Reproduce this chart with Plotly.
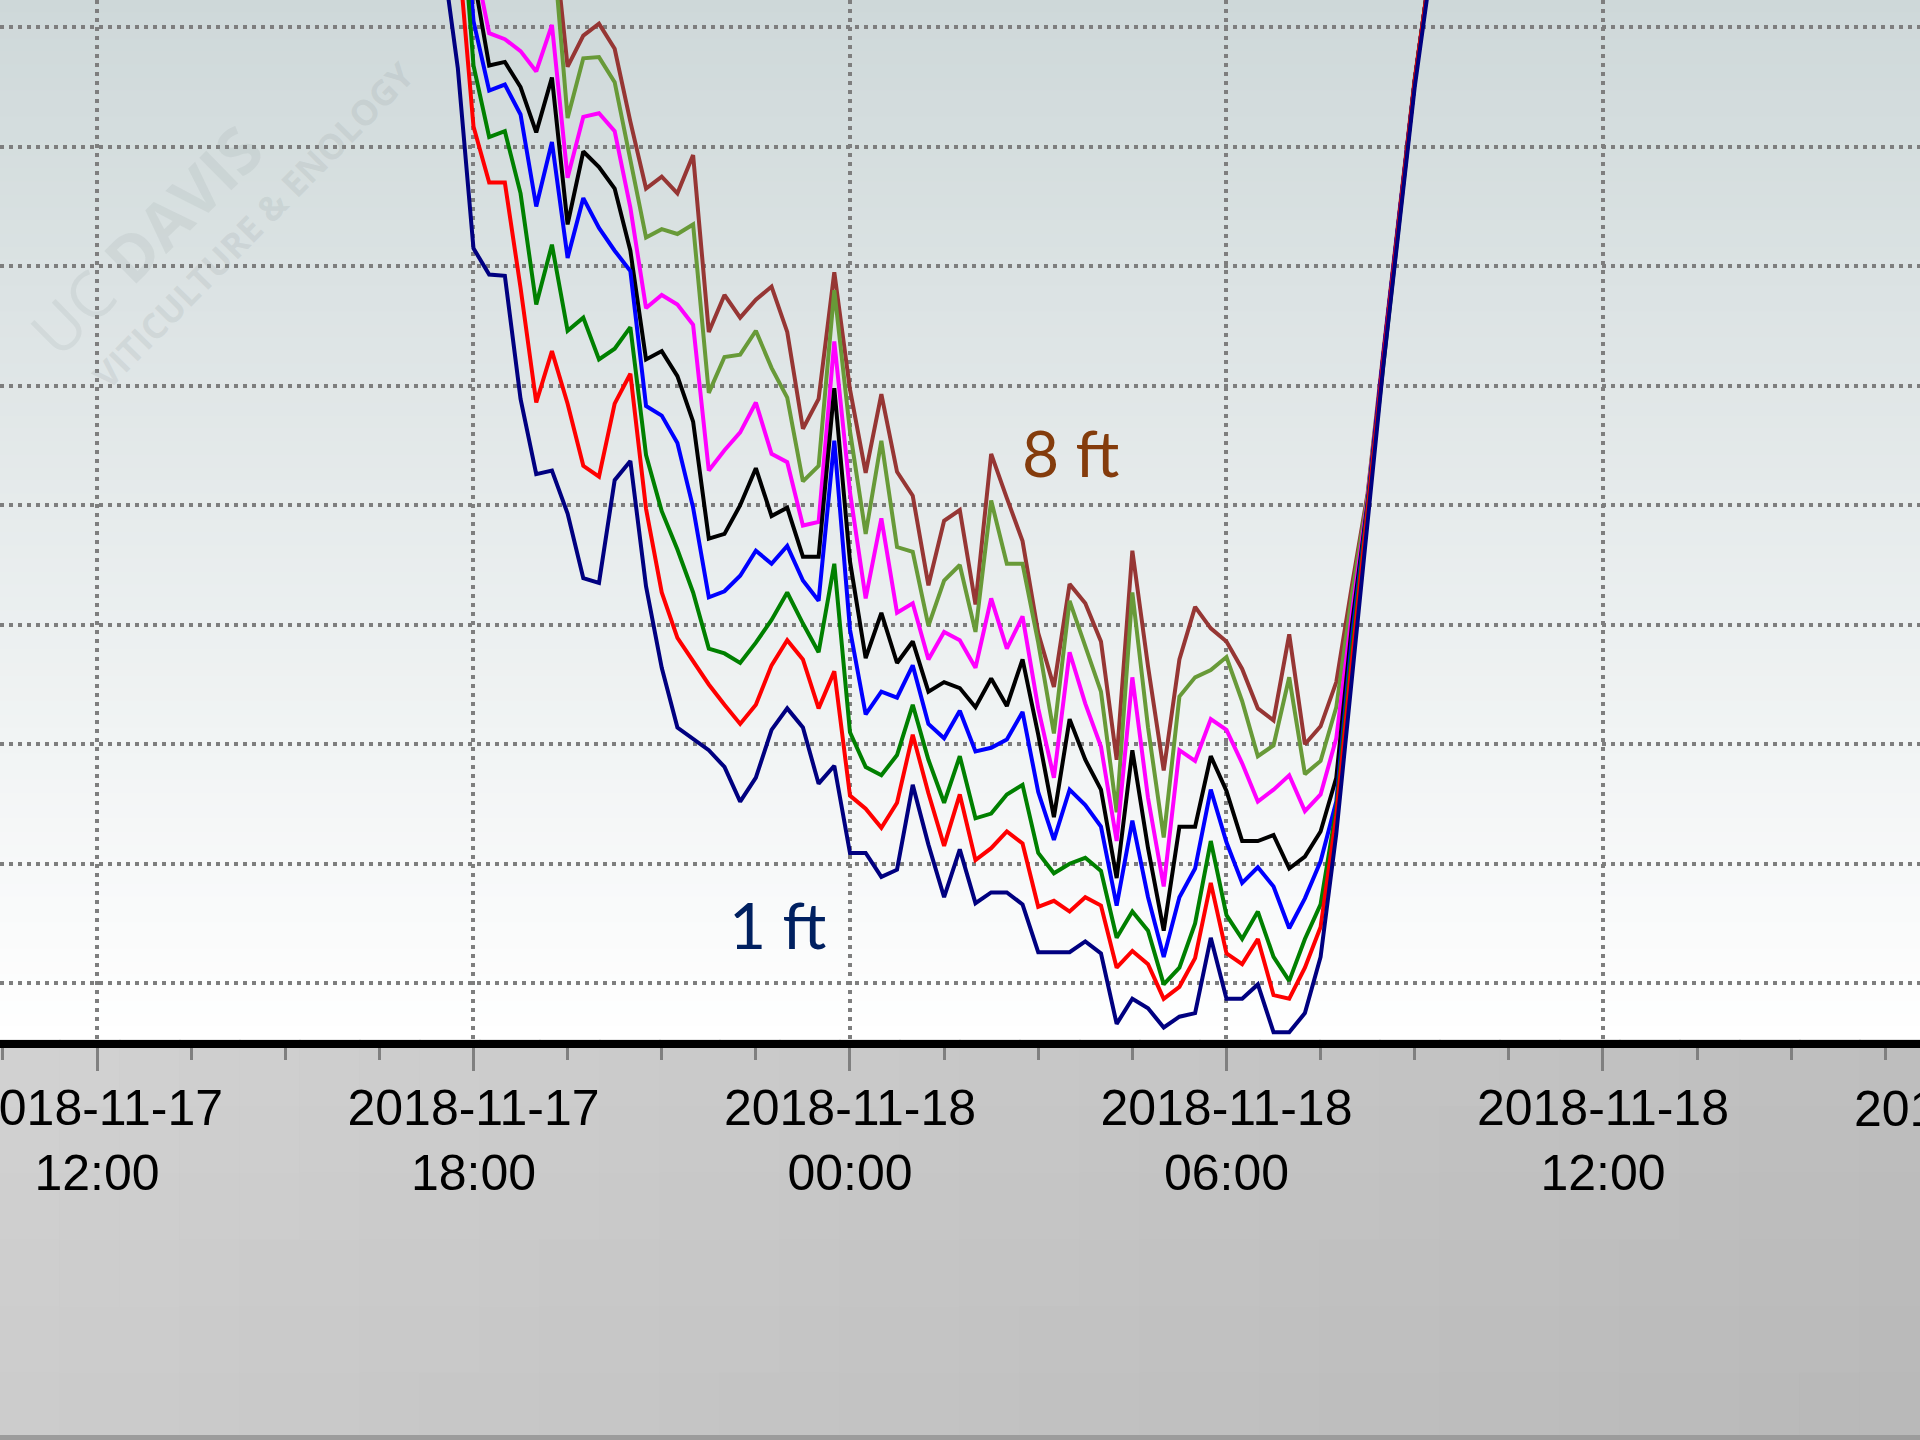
import plotly.graph_objects as go
import pandas as pd

# ---- data: 15-minute readings, 2018-11-17 17:15 .. 2018-11-18 09:30 ----
START = "2018-11-17 17:15"
N_POINTS = 66
times = pd.date_range(START, periods=N_POINTS, freq="15min")

temp_1ft = [38.5, 37.63, 36.66, 35.15, 34.93, 34.92, 33.89, 33.26, 33.29, 32.93,
            32.39, 32.35, 33.21, 33.37, 32.32, 31.64, 31.14, 31.05, 30.95, 30.81,
            30.52, 30.72, 31.12, 31.30, 31.14, 30.67, 30.82, 30.09, 30.09, 29.89,
            29.95, 30.66, 30.16, 29.72, 30.12, 29.67, 29.76, 29.76, 29.66, 29.26,
            29.26, 29.26, 29.35, 29.25, 28.66, 28.87, 28.79, 28.63, 28.72, 28.75,
            29.38, 28.87, 28.87, 28.99, 28.59, 28.59, 28.75, 29.22, 30.25, 31.58,
            32.85, 34.17, 35.33, 36.50, 37.45, 38.5]
temp_2ft = [39.0, 38.3, 37.7, 36.17, 35.70, 35.70, 34.82, 33.86, 34.29, 33.85,
            33.33, 33.24, 33.85, 34.10, 32.97, 32.27, 31.89, 31.70, 31.50, 31.33,
            31.17, 31.33, 31.66, 31.87, 31.71, 31.30, 31.61, 30.57, 30.46, 30.30,
            30.51, 31.08, 30.59, 30.15, 30.58, 30.03, 30.13, 30.27, 30.17, 29.64,
            29.69, 29.60, 29.72, 29.65, 29.13, 29.27, 29.16, 28.87, 28.97, 29.21,
            29.84, 29.25, 29.16, 29.37, 28.90, 28.87, 29.13, 29.47, 30.40, 31.70,
            32.95, 34.22, 35.38, 36.55, 37.5, 38.6]
temp_3ft = [40.0, 39.2, 38.4, 36.68, 36.08, 36.13, 35.61, 34.68, 35.18, 34.46,
            34.57, 34.22, 34.31, 34.49, 33.42, 32.95, 32.63, 32.27, 31.80, 31.76,
            31.68, 31.85, 32.04, 32.27, 32.01, 31.77, 32.51, 31.10, 30.81, 30.74,
            30.91, 31.33, 30.87, 30.51, 30.90, 30.38, 30.42, 30.58, 30.66, 30.09,
            29.92, 30.00, 30.05, 29.94, 29.38, 29.60, 29.44, 28.99, 29.13, 29.50,
            30.19, 29.57, 29.37, 29.60, 29.22, 29.02, 29.37, 29.66, 30.46, 31.80,
            33.0, 34.22, 35.38, 36.55, 37.5, 38.6]
temp_4ft = [40.5, 39.6, 38.7, 37.05, 36.47, 36.52, 36.27, 35.50, 36.04, 35.07,
            35.57, 35.32, 35.13, 34.96, 33.83, 33.75, 33.52, 32.98, 32.23, 32.28,
            32.41, 32.62, 32.51, 32.66, 32.37, 32.20, 33.54, 31.96, 31.25, 31.44,
            31.39, 31.66, 31.17, 31.05, 31.28, 30.94, 30.97, 31.04, 31.27, 30.60,
            30.20, 30.62, 30.49, 30.31, 29.65, 30.36, 29.72, 29.22, 29.72, 29.96,
            30.62, 30.18, 29.84, 29.97, 29.81, 29.46, 29.71, 30.02, 30.52, 31.90,
            33.0, 34.25, 35.4, 36.55, 37.5, 38.6]
temp_5ft = [40.5, 39.4, 38.4, 37.43, 36.68, 36.71, 36.50, 36.12, 36.58, 35.35,
            35.96, 35.83, 35.65, 35.13, 34.22, 34.29, 34.08, 33.70, 32.72, 32.76,
            33.00, 33.31, 32.91, 32.98, 32.57, 32.57, 33.98, 32.53, 31.72, 32.10,
            31.68, 31.86, 31.44, 31.52, 31.47, 31.31, 31.55, 31.32, 31.71, 31.08,
            30.39, 31.21, 30.87, 30.62, 29.88, 30.95, 30.13, 29.44, 30.31, 30.31,
            30.90, 30.61, 30.19, 30.19, 30.24, 29.96, 30.06, 30.27, 30.72, 32.0,
            33.02, 34.25, 35.4, 36.55, 37.5, 38.6]
temp_6ft = [41.0, 39.8, 38.7, 37.6, 36.95, 36.90, 36.80, 36.63, 37.02, 35.74,
            36.25, 36.28, 36.13, 35.49, 34.65, 34.76, 34.68, 34.51, 33.29, 33.46,
            33.61, 33.86, 33.43, 33.36, 32.83, 32.86, 34.37, 33.11, 32.22, 32.89,
            32.10, 32.18, 31.71, 31.94, 31.87, 31.64, 32.22, 31.80, 32.07, 31.30,
            30.72, 31.77, 31.34, 30.98, 30.19, 31.56, 30.55, 29.81, 30.95, 30.86,
            31.21, 31.12, 30.84, 30.52, 30.62, 30.74, 30.44, 30.58, 31.05, 32.1,
            33.05, 34.25, 35.4, 36.55, 37.5, 38.6]
temp_7ft = [41.5, 40.6, 39.7, 39.0, 38.6, 38.5, 38.3, 38.1, 37.8, 36.24,
            36.74, 36.75, 36.54, 35.90, 35.24, 35.31, 35.27, 35.35, 33.94, 34.24,
            34.26, 34.46, 34.15, 33.90, 33.20, 33.33, 34.80, 33.62, 32.76, 33.54,
            32.65, 32.61, 31.99, 32.37, 32.50, 31.94, 33.04, 32.51, 32.51, 31.85,
            31.09, 32.20, 31.82, 31.44, 30.43, 32.27, 31.14, 30.22, 31.40, 31.56,
            31.62, 31.73, 31.36, 30.90, 30.99, 31.56, 30.75, 30.86, 31.31, 32.25,
            33.08, 34.25, 35.4, 36.55, 37.5, 38.6]
temp_8ft = [42.0, 41.0, 40.2, 39.5, 39.0, 38.8, 38.6, 38.3, 37.92, 36.67,
            36.93, 37.03, 36.82, 36.21, 35.65, 35.75, 35.61, 35.93, 34.45, 34.76,
            34.57, 34.72, 34.83, 34.45, 33.64, 33.89, 34.95, 33.97, 33.27, 33.93,
            33.28, 33.08, 32.33, 32.87, 32.96, 32.17, 33.43, 33.06, 32.70, 31.93,
            31.48, 32.34, 32.18, 31.86, 30.87, 32.62, 31.65, 30.78, 31.71, 32.15,
            31.97, 31.86, 31.63, 31.30, 31.20, 31.92, 31.00, 31.15, 31.52, 32.33,
            33.1, 34.28, 35.42, 36.57, 37.5, 38.6]

series_names = ["8 ft", "7 ft", "6 ft", "5 ft", "4 ft", "3 ft", "2 ft", "1 ft"]
series_values = [temp_8ft, temp_7ft, temp_6ft, temp_5ft, temp_4ft, temp_3ft, temp_2ft, temp_1ft]
series_colors = ["#963634", "#689A38", "#FF00FF", "#000000", "#0000FF", "#008000", "#FF0000", "#000080"]

# ---- figure geometry ----
W, H = 1920, 1440
PLOT_BOTTOM = 1040  # px from top
X_RANGE = ["2018-11-17 10:27:15", "2018-11-18 17:03:09"]
Y_RANGE = [28.525, 37.228]

fig = go.Figure()
for name, vals, col in zip(series_names, series_values, series_colors):
    fig.add_trace(go.Scatter(x=times, y=vals, mode="lines", name=name,
                             line=dict(color=col, width=4), showlegend=False,
                             hoverinfo="skip"))

shapes = []
# plot-area vertical gradient (grey-blue at top to white at bottom)
NB = 80
top_c = (206, 216, 217)
bot_c = (255, 255, 255)
for i in range(NB):
    t = (i + 0.5) / NB
    c = tuple(int(round(top_c[j] + (bot_c[j] - top_c[j]) * t)) for j in range(3))
    y1 = 1 - i / NB
    y0 = 1 - (i + 1) / NB
    shapes.append(dict(type="rect", xref="paper", yref="paper", x0=0, x1=1,
                       y0=y0 - 0.0005, y1=y1 + 0.0005, layer="below",
                       line=dict(width=0), fillcolor="rgb(%d,%d,%d)" % c))
# lower grey region with diagonal gradient
y_bottom_paper = 1 - H / PLOT_BOTTOM
NX, NY = 32, 6
for i in range(NX):
    for j in range(NY):
        tx = (i + 0.5) / NX
        ty = (j + 0.5) / NY
        s = 0.75 * tx + 0.25 * ty
        g = int(round(210 - 26 * s))
        x0 = i / NX
        x1 = (i + 1) / NX
        ya = y_bottom_paper * j / NY
        yb = y_bottom_paper * (j + 1) / NY
        shapes.append(dict(type="rect", xref="paper", yref="paper",
                           x0=x0 - 0.0005, x1=x1 + 0.0005, y0=yb - 0.0005, y1=ya + 0.0005,
                           layer="below", line=dict(width=0),
                           fillcolor="rgb(%d,%d,%d)" % (g, g, g)))
# dark strip at the very bottom
shapes.append(dict(type="rect", xref="paper", yref="paper", x0=0, x1=1,
                   y0=y_bottom_paper - 0.01, y1=1 - 1435 / PLOT_BOTTOM,
                   layer="below", line=dict(width=0), fillcolor="#9C9C9C"))

grid_kw = dict(showgrid=True, gridcolor="#7E7E7E", gridwidth=4, griddash="4px,5px")

fig.update_layout(
    width=W, height=H,
    margin=dict(l=0, r=0, t=0, b=H - PLOT_BOTTOM, pad=0),
    paper_bgcolor="#C8C8C8",
    plot_bgcolor="#E6ECEC",
    shapes=shapes,
    showlegend=False,
    xaxis=dict(
        type="date", range=X_RANGE, tick0="2018-11-17 00:00", dtick=21600000,
        tickformat="%Y-%m-%d<br>%H:%M",
        tickfont=dict(family="Liberation Sans, Arial", size=50, color="#000000"),
        ticklabeloverflow="allow", ticklabelstandoff=-6,
        ticks="outside", ticklen=23, tickwidth=3, tickcolor="#808080",
        showline=True, linecolor="#000000", linewidth=8,
        minor=dict(dtick=5400000, ticks="outside", ticklen=12, tickwidth=3,
                   tickcolor="#808080", showgrid=False),
        zeroline=False, automargin=False, fixedrange=True,
        **grid_kw),
    yaxis=dict(
        range=Y_RANGE, tick0=29, dtick=1, showticklabels=False, ticks="",
        zeroline=False, showline=False, automargin=False, fixedrange=True,
        **grid_kw),
)

def px_x(x):
    return x / W

def px_y(y):
    return 1 - y / PLOT_BOTTOM

annotations = [
    # watermark
    dict(text="UC <b>DAVIS</b>", x=px_x(145), y=px_y(240), xref="paper", yref="paper",
         showarrow=False, textangle=-44.5, xanchor="center", yanchor="middle",
         font=dict(family="Open Sans", size=64, color="rgba(150,160,162,0.16)")),
    dict(text="<b>VITICULTURE &amp; ENOLOGY</b>", x=px_x(252), y=px_y(225), xref="paper", yref="paper",
         showarrow=False, textangle=-45.5, xanchor="center", yanchor="middle",
         font=dict(family="Open Sans", size=35, color="rgba(150,160,162,0.2)")),
    # series labels
    dict(text="8 ft", x=px_x(1071), y=px_y(452), xref="paper", yref="paper",
         showarrow=False, xanchor="center", yanchor="middle",
         font=dict(family="Lato", size=64, color="#843C0C")),
    dict(text="1 ft", x=px_x(778), y=px_y(924), xref="paper", yref="paper",
         showarrow=False, xanchor="center", yanchor="middle",
         font=dict(family="Lato", size=64, color="#002060")),
    # cut-off tick label at the right edge (next 6-hour tick, outside the range)
    dict(text="2018-11-18<br>18:00", x=px_x(1979.5), y=px_y(1079), xref="paper", yref="paper",
         showarrow=False, xanchor="center", yanchor="top", align="center",
         font=dict(family="Liberation Sans, Arial", size=50, color="#000000")),
]
fig.update_layout(annotations=annotations)

fig.write_html("out.html",
               config={"displayModeBar": False, "staticPlot": True},
               post_script="document.body.style.margin='0';document.body.style.padding='0';"
                           "document.body.style.overflow='hidden';")
